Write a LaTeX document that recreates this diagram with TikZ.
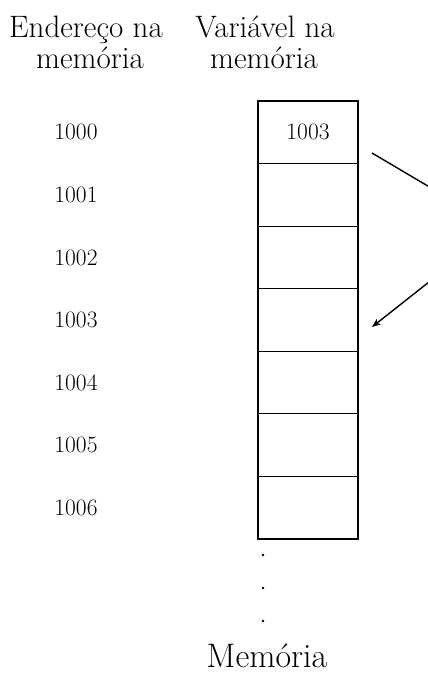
\documentclass[tikz,border=0pt]{standalone}
\usetikzlibrary{arrows.meta}
\begin{document}
\begin{tikzpicture}[x=1pt,y=-1pt,
  hdr/.style={anchor=base,inner sep=0pt,font=\fontsize{31}{33}\selectfont},
  addr/.style={inner sep=0pt,font=\fontsize{23.5}{26}\selectfont},
  cell/.style={draw,line width=1.1pt,minimum width=100pt,minimum height=62.57pt,inner sep=0pt,font=\fontsize{23.5}{26}\selectfont},
  vdot/.style={circle,fill,inner sep=0pt,minimum size=2.8pt},
  ptr/.style={line width=1.4pt,-{Stealth[length=9pt,width=7pt]}}]
\useasboundingbox (0,0) rectangle (428,673);
% headers
\node[hdr] (hA1) at (86,37) {Endereço na};
\node[hdr] (hA2) at (90,68) {memória};
\node[hdr] (hB1) at (265,37) {Variável na};
\node[hdr] (hB2) at (264,68) {memória};
% memory cells and addresses
\foreach \i/\a/\v in {0/1000/1003,1/1001/,2/1002/,3/1003/,4/1004/,5/1005/,6/1006/}{
  \node[cell] (c\i) at (308,{132.3+62.57*\i}) {\v};
  \node[addr] (a\i) at (76,{132.3+62.57*\i}) {\a};
}
% continuation dots
\node[vdot] (d1) at (263,555) {};
\node[vdot] (d2) at (263,588) {};
\node[vdot] (d3) at (263,621) {};
\node[inner sep=0pt,anchor=base,font=\fontsize{34}{36}\selectfont] (mem) at (267,667) {Memória};
% pointer arrow (runs out of the picture on the right)
\coordinate (ptrS) at (372,153);
\coordinate (ptrM) at (498,227.5);
\coordinate (ptrE) at (372,327);
\begin{scope}
\clip (0,0) rectangle (428,673);
\draw[ptr] (ptrS) -- (ptrM) -- (ptrE);
\end{scope}
\end{tikzpicture}
\end{document}
